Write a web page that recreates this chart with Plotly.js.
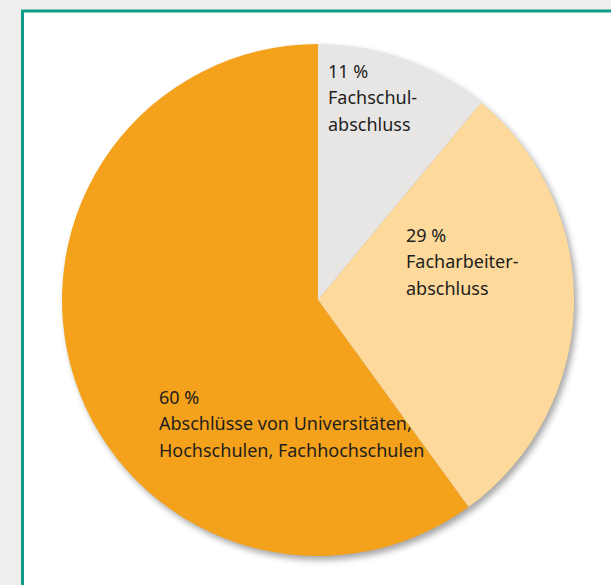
<!DOCTYPE html>
<html>
<head>
<meta charset="utf-8">
<script src="https://cdn.plot.ly/plotly-3.0.1.min.js"></script>
<style>
  html, body { margin: 0; padding: 0; background: #efeeec; }
  #chart { width: 611px; height: 585px; }
  .pielayer { filter: drop-shadow(3px 4px 3px rgba(0,0,0,0.35)); }
</style>
</head>
<body>
<div id="chart"></div>
<script>
// ---- data ----
const categories = ['Fachschulabschluss', 'Facharbeiterabschluss', 'Abschlüsse von Universitäten, Hochschulen, Fachhochschulen'];
const values = [11, 29, 60];
const labelLines = [
  ['Fachschul-', 'abschluss'],
  ['Facharbeiter-', 'abschluss'],
  ['Abschlüsse von Universitäten,', 'Hochschulen, Fachhochschulen']
];

// ---- styles / layout ----
const sliceColors = ['#e8e6e5', '#fdd99b', '#f4a11b'];
const W = 611, H = 585;
const labelPos = [ [326, 76], [404, 240], [157, 402] ]; // left x, first baseline (px)
const lineGap = 26.5;
const fontSize = 18;
const font = '"Noto Sans", Lato, sans-serif';

const cx = 318, cy = 300, r = 256;

const annotations = [];
values.forEach((v, i) => {
  const lines = [v + ' %'].concat(labelLines[i]);
  lines.forEach((ln, j) => {
    const base = labelPos[i][1] + j * lineGap;
    annotations.push({
      xref: 'paper', yref: 'paper',
      x: labelPos[i][0] / W,
      y: 1 - (base - fontSize * 0.3) / H,
      xanchor: 'left', yanchor: 'middle',
      text: ln, showarrow: false,
      font: { family: font, size: fontSize, color: '#1e1e1e' }
    });
  });
});

const trace = {
  type: 'pie',
  labels: categories,
  values: values,
  sort: false,
  direction: 'clockwise',
  rotation: 0,
  textinfo: 'none',
  hoverinfo: 'label+percent',
  marker: { colors: sliceColors, line: { width: 0 } },
  domain: { x: [(cx - r) / W, (cx + r) / W], y: [1 - (cy + r) / H, 1 - (cy - r) / H] },
  showlegend: false
};

const layout = {
  width: W, height: H,
  margin: { l: 0, r: 0, t: 0, b: 0 },
  paper_bgcolor: '#efeeec',
  showlegend: false,
  shapes: [{
    type: 'rect', xref: 'paper', yref: 'paper', layer: 'below',
    x0: 22.5 / W, x1: 1.05, y0: -0.05, y1: 1 - 11 / H,
    fillcolor: '#ffffff',
    line: { color: '#0f9b8a', width: 3 }
  }],
  annotations: annotations
};

Plotly.newPlot('chart', [trace], layout, { displayModeBar: false, staticPlot: true });
</script>
</body>
</html>
